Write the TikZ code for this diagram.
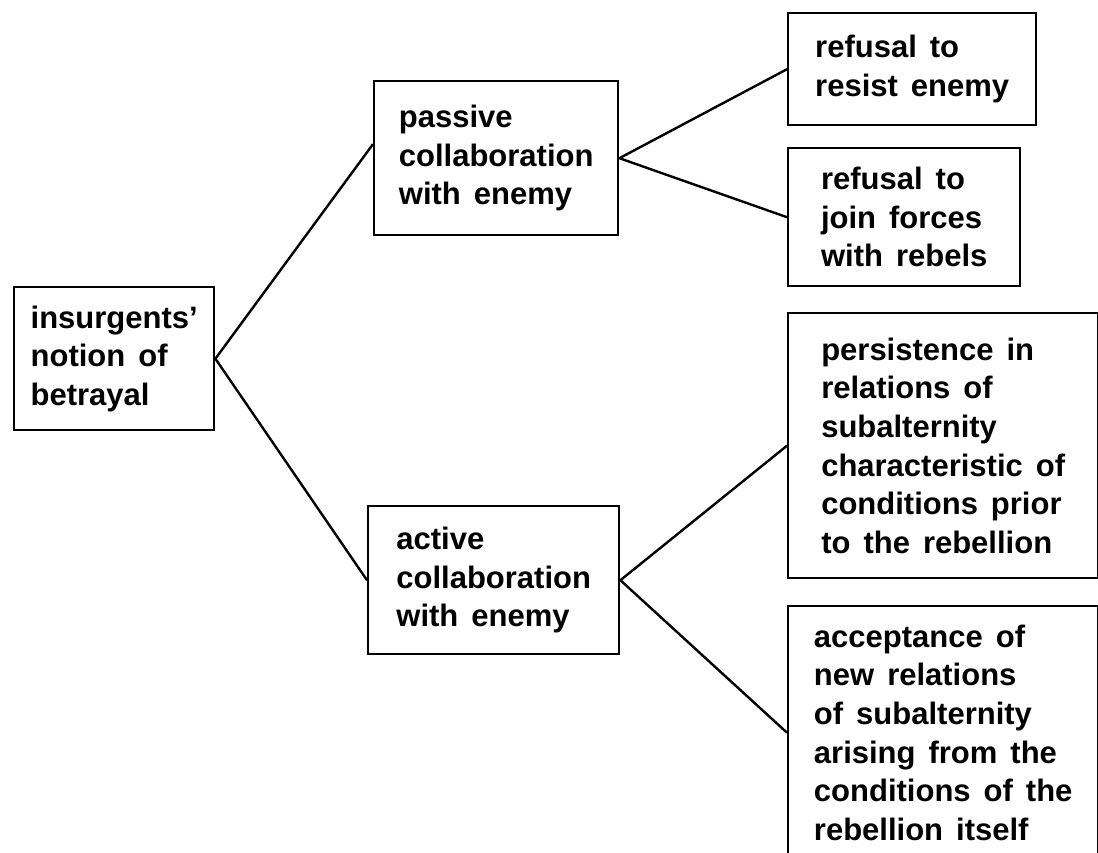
\documentclass[tikz,border=0pt]{standalone}
\usepackage{fontspec}
\setmainfont{Liberation Sans}
\usetikzlibrary{calc}
\newcommand{\espaciado}{\spaceskip 13pt plus 2pt minus 2pt\relax}

\begin{document}
\begin{tikzpicture}[x=1pt,y=-1pt,
        caja/.style={draw, line width=2.4pt, anchor=north west, align=left,
            inner ysep=0pt, font=\fontsize{31}{38.6}\selectfont\bfseries\espaciado},
        rama/.style={line width=2.4pt}]
        % Paso 1: Fija el marco del dibujo
        \useasboundingbox (0,0) rectangle (1098,852);
        \clip (0,0) rectangle (1098,852);

        % Paso 2: Caja de la izquierda
        \node[caja, minimum width=200pt, minimum height=143pt] (betrayal) at (13,286)
            {insurgents'\\notion of\\betrayal};

        % Paso 3: Cajas del centro
        \node[caja, minimum width=244pt, minimum height=154pt] (passive) at (373,80)
            {passive\\collaboration\\with enemy};
        \node[caja, minimum width=251pt, minimum height=148pt] (active) at (367,505)
            {active\\collaboration\\with enemy};

        % Paso 4: Cajas de la derecha
        \node[caja, minimum width=248pt, minimum height=112pt] (resist) at (787,12)
            {refusal to\\resist enemy};
        \node[caja, minimum width=232pt, minimum height=138pt] (join) at (787,147)
            {refusal to\\join forces\\with rebels};
        \node[caja, minimum width=310pt, minimum height=265pt] (persist) at (787,312)
            {persistence in\\relations of\\subalternity\\characteristic of\\conditions prior\\to the rebellion};
        \node[caja, minimum width=310pt, minimum height=253pt] (accept) at (787,605)
            {acceptance of\\new relations\\of subalternity\\arising from the\\conditions of the\\rebellion itself};

        % Paso 5: Dibuja las ramas entre las cajas
        \draw[rama] (betrayal.east) -- ($(passive.north west)!0.41!(passive.south west)$);
        \draw[rama] (betrayal.east) -- (active.west);
        \draw[rama] (passive.east) -- (resist.west);
        \draw[rama] (passive.east) -- (join.west);
        \draw[rama] (active.east) -- (persist.west);
        \draw[rama] (active.east) -- (accept.west);
    \end{tikzpicture}
\end{document}
